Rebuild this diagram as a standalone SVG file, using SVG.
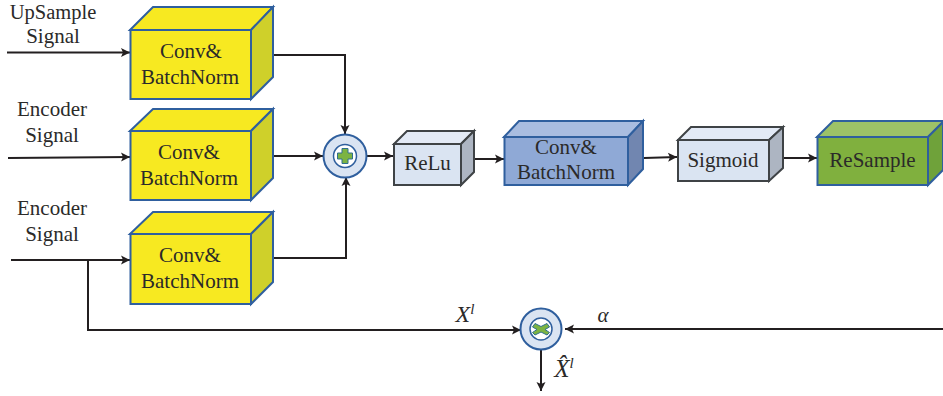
<svg xmlns="http://www.w3.org/2000/svg" width="943" height="396" viewBox="0 0 943 396">
<style>
text{font-family:"Liberation Serif","Times New Roman",serif;font-size:21px;fill:#2b2a29;text-anchor:middle;stroke:none}
.it{font-style:italic}
.sup{font-size:15px}
.ln{fill:none;stroke:#231f20;stroke-width:2}
.bl{stroke:#2f5f9e;stroke-width:2;stroke-linejoin:miter}
.gr{stroke:#3f4346;stroke-width:2;stroke-linejoin:miter}
.yf{fill:#f7e921}.yt{fill:#f7e921}.ys{fill:#cfd02a}
.lf{fill:#dae4f2}.lt{fill:#e3eaf6}.ls{fill:#adb5c2}
.bf{fill:#8fa9d6}.bt{fill:#a9bde0}.bs{fill:#7186b0}
.gf{fill:#80b03e}.gt{fill:#9dc267}.gs{fill:#6fa23a}
</style>
<defs>
<marker id="a" markerUnits="userSpaceOnUse" markerWidth="11" markerHeight="11" refX="10" refY="5.500" orient="auto"><path d="M1 1L10 5.500L1 10L3 5.500Z" fill="#231f20"/></marker>
</defs>
<g id="connectors">
<path class="ln" marker-end="url(#a)" d="M7 52.500H130"/>
<path class="ln" marker-end="url(#a)" d="M8 158L130 157"/>
<path class="ln" marker-end="url(#a)" d="M11 260H130"/>
<path class="ln" marker-end="url(#a)" d="M273 55H345V134"/>
<path class="ln" marker-end="url(#a)" d="M273 156H323"/>
<path class="ln" marker-end="url(#a)" d="M273 258H346V177"/>
<path class="ln" marker-end="url(#a)" d="M367 156H393"/>
<path class="ln" marker-end="url(#a)" d="M475 159H504"/>
<path class="ln" marker-end="url(#a)" d="M644 158L677 157"/>
<path class="ln" marker-end="url(#a)" d="M784 158H817"/>
<path class="ln" marker-end="url(#a)" d="M88 260V330H521"/>
<path class="ln" marker-end="url(#a)" d="M943 329H565"/>
<path class="ln" marker-end="url(#a)" d="M541 350V391"/>
</g>
<g id="upsample-label"><text x="53" y="18.500" style="font-size:20.500px">UpSample</text><text x="53" y="43">Signal</text></g>
<g id="encoder-label-1"><text x="52" y="116">Encoder</text><text x="52" y="142">Signal</text></g>
<g id="encoder-label-2"><text x="52" y="215">Encoder</text><text x="52" y="241">Signal</text></g>
<g id="conv1" class="bl">
<path class="yt" d="M130 30L153 7H273L251 30Z"/><path class="ys" d="M251 30L273 7V77L251 99Z"/><rect class="yf" x="130.500" y="30" width="120.500" height="69"/>
<text x="191" y="58">Conv&amp;</text><text x="190" y="84">BatchNorm</text>
</g>
<g id="conv2" class="bl">
<path class="yt" d="M130 131L153 109H273L251 131Z"/><path class="ys" d="M251 131L273 109V178L251 200Z"/><rect class="yf" x="130.500" y="131" width="120.500" height="69"/>
<text x="189" y="159">Conv&amp;</text><text x="189" y="185">BatchNorm</text>
</g>
<g id="conv3" class="bl">
<path class="yt" d="M130 234L153 212H273L251 234Z"/><path class="ys" d="M251 234L273 212V282L251 304Z"/><rect class="yf" x="130.500" y="234" width="120.500" height="70"/>
<text x="190" y="262">Conv&amp;</text><text x="190" y="288">BatchNorm</text>
</g>
<g id="add">
<circle cx="345" cy="156" r="21.500" fill="#dae4f2" stroke="#2f5f9e" stroke-width="2"/>
<circle cx="345" cy="156" r="11.500" fill="#fff" stroke="#2f5f9e" stroke-width="1.500"/>
<path d="M342 148.500h6v4.500h4.500v6h-4.500v4.500h-6v-4.500h-4.500v-6h4.500Z" fill="#7cb342" stroke="#2f6f8e" stroke-width="1"/>
</g>
<g id="relu" class="gr">
<path class="lt" d="M394 144L407 131H474L461 144Z"/><path class="ls" d="M461 144L474 131V172L461 185Z"/><rect class="lf" x="394" y="144" width="67" height="41"/>
<text x="427.500" y="170">ReLu</text>
</g>
<g id="conv-blue" class="bl">
<path class="bt" d="M504 137L519 121H643L628 137Z"/><path class="bs" d="M628 137L643 121V169L628 185Z"/><rect class="bf" x="504.500" y="137" width="123.500" height="48"/>
<text x="566" y="154">Conv&amp;</text><text x="566" y="179">BatchNorm</text>
</g>
<g id="sigmoid" class="gr">
<path class="lt" d="M678 140L691 127H783L769 140Z"/><path class="ls" d="M769 140L783 127V168L769 181Z"/><rect class="lf" x="678" y="140" width="91" height="41"/>
<text x="723" y="167">Sigmoid</text>
</g>
<g id="resample" class="bl">
<path class="gt" d="M817 137L833 121H943V122L928 137Z"/><path class="gs" d="M928 137L943 122V170L928 185Z"/><rect class="gf" x="817.500" y="137" width="110.500" height="48"/>
<text x="872.500" y="167">ReSample</text>
</g>
<g id="multiply">
<circle cx="541" cy="329" r="20.500" fill="#dae4f2" stroke="#2f5f9e" stroke-width="2"/>
<circle cx="541" cy="329" r="11" fill="#fff" stroke="#2f5f9e" stroke-width="1.500"/>
<path d="M535 323.500L541 326.500L547 323.500L549.500 327L545 329.500L549.500 332.500L547 335L541 332L535 335L532.500 332.500L537 329.500L532.500 327Z" fill="#7cb342" stroke="#2f6f8e" stroke-width="1"/>
</g>
<g id="labels">
<text class="it" x="465" y="322" style="font-size:24px">X<tspan class="sup" dy="-8">l</tspan></text>
<text class="it" x="603" y="322" style="font-size:21px">α</text>
<text class="it" x="564" y="377" style="font-size:25px">X̂<tspan class="sup" dy="-9">l</tspan></text>
</g>
</svg>
